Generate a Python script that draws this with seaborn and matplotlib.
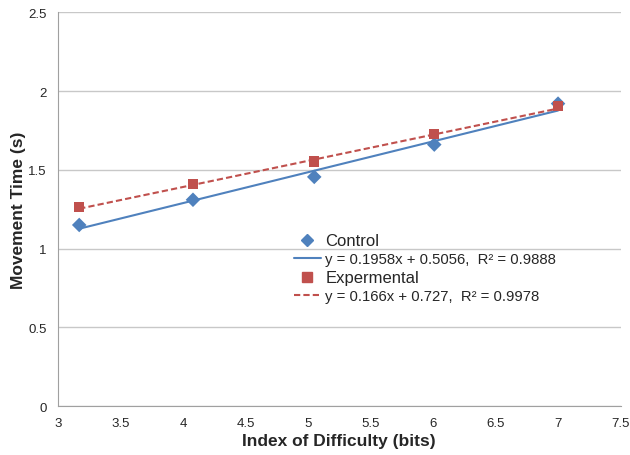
import seaborn as sns
import numpy as np
import pandas as pd
import matplotlib.pyplot as plt
from matplotlib.lines import Line2D

# values
index_of_difficulty = [3.17, 4.08, 5.05, 6.01, 7.0]
control_mt = [1.15, 1.31, 1.455, 1.66, 1.92]
experimental_mt = [1.263, 1.41, 1.552, 1.728, 1.907]

# trendline coefficients (slope, intercept) as printed in the legend
control_fit = (0.1958, 0.5056)
experimental_fit = (0.166, 0.727)
control_eq = "y = 0.1958x + 0.5056,  R² = 0.9888"
experimental_eq = "y = 0.166x + 0.727,  R² = 0.9978"

x_ticks = [3, 3.5, 4, 4.5, 5, 5.5, 6, 6.5, 7, 7.5]
y_ticks = [0, 0.5, 1, 1.5, 2, 2.5]

blue = "#4F81BD"
red = "#C0504D"

sns.set_style("white")
plt.rcParams['font.family'] = ['Liberation Sans', 'DejaVu Sans']

df = pd.DataFrame({
    "ID": index_of_difficulty * 2,
    "MT": control_mt + experimental_mt,
    "group": ["Control"] * 5 + ["Expermental"] * 5,
})

# trend lines span the range of the data
xs = np.array([min(index_of_difficulty), max(index_of_difficulty)])
trend = pd.DataFrame({
    "ID": np.concatenate([xs, xs]),
    "MT": np.concatenate([control_fit[0] * xs + control_fit[1],
                          experimental_fit[0] * xs + experimental_fit[1]]),
    "group": ["Control"] * 2 + ["Expermental"] * 2,
})

fig = plt.figure(figsize=(6.3, 4.56), dpi=100)
ax = fig.add_axes([0.092, 0.107, 0.893, 0.864])

sns.scatterplot(data=df, x="ID", y="MT", hue="group", style="group",
                markers={"Control": "D", "Expermental": "s"},
                palette={"Control": blue, "Expermental": red},
                s=55, linewidth=0, ax=ax, legend=False, zorder=3)
sns.lineplot(data=trend[trend.group == "Control"], x="ID", y="MT",
             color=blue, linewidth=1.5, ax=ax, zorder=2)
sns.lineplot(data=trend[trend.group == "Expermental"], x="ID", y="MT",
             color=red, linewidth=1.5, linestyle=(0, (3, 1.5)), ax=ax, zorder=2)

ax.set_xlim(3, 7.5)
ax.set_ylim(0, 2.5)
ax.set_xticks(x_ticks)
ax.set_xticklabels([f"{t:g}" for t in x_ticks], fontsize=9.5)
ax.set_yticks(y_ticks)
ax.set_yticklabels([f"{t:g}" for t in y_ticks], fontsize=9.5)
ax.yaxis.grid(True, color="#c8c8c8", linewidth=1)
ax.set_axisbelow(True)
ax.tick_params(axis="x", length=4, color="#a0a0a0", pad=4)
ax.tick_params(axis="y", length=0, pad=8)
for side in ["top", "right"]:
    ax.spines[side].set_visible(False)
for side in ["left", "bottom"]:
    ax.spines[side].set_color("#a0a0a0")

ax.set_xlabel("Index of Difficulty (bits)", fontsize=12.5, fontweight="bold",
              labelpad=3)
ax.set_ylabel("Movement Time (s)", fontsize=12.5, fontweight="bold",
              labelpad=2)

handles = [
    Line2D([], [], marker="D", color=blue, linestyle="none", markersize=6),
    Line2D([], [], color=blue, linewidth=1.5),
    Line2D([], [], marker="s", color=red, linestyle="none", markersize=7),
    Line2D([], [], color=red, linewidth=1.5, linestyle=(0, (3, 1.5))),
]
labels = ["Control", control_eq, "Expermental", experimental_eq]
leg = ax.legend(handles, labels, loc="upper left", bbox_to_anchor=(0.41, 0.455),
                frameon=False, handlelength=1.9, handletextpad=0.35,
                labelspacing=0.3, borderaxespad=0)
for i, t in enumerate(leg.get_texts()):
    t.set_fontsize(12 if i % 2 == 0 else 10.7)

fig.savefig("out.png", dpi=100)
